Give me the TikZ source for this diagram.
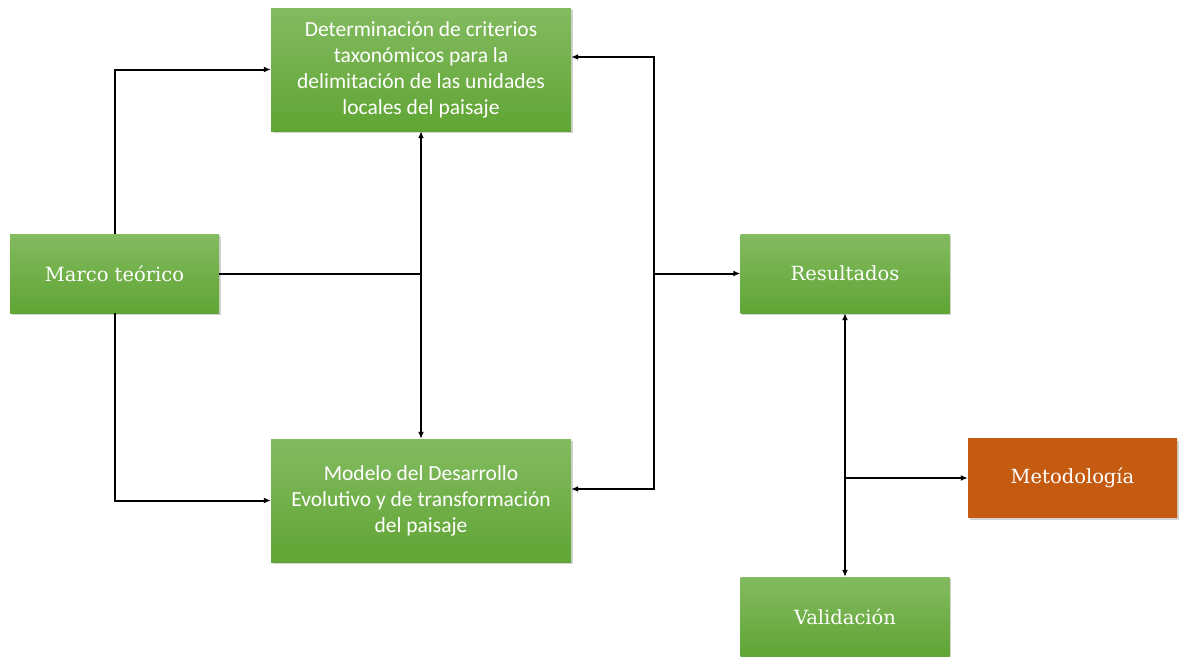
\documentclass[tikz,border=0pt]{standalone}
\usepackage{fontspec}
\setmainfont{DejaVu Serif}
\newfontfamily\calib{Carlito}
\usetikzlibrary{shadows,arrows.meta,calc}
\definecolor{gtop}{RGB}{131,187,96}
\definecolor{gbot}{RGB}{96,165,52}
\definecolor{orng}{RGB}{197,90,17}
\tikzset{
  box/.style={rectangle, inner sep=0pt, text=white, top color=gtop, bottom color=gbot, middle color=gbot!50!gtop,
    drop shadow={shadow xshift=1.5pt, shadow yshift=-2pt, opacity=0.35}},
  bigbox/.style={box, minimum width=300pt, minimum height=123pt, align=center,
    font=\calib\fontsize{21.5}{26}\selectfont},
  smallbox/.style={box, minimum width=209pt, minimum height=79pt, font=\fontsize{19.5}{22}\selectfont},
  orbox/.style={smallbox, top color=orng, bottom color=orng, middle color=orng},
  conn/.style={line width=2pt, -{Latex[length=7pt,width=6pt]}},
  conn2/.style={line width=2pt, {Latex[length=7pt,width=6pt]}-{Latex[length=7pt,width=6pt]}},
  plain/.style={line width=2pt}
}
\begin{document}
\begin{tikzpicture}[x=1pt,y=-1pt]
\useasboundingbox (0,0) rectangle (1180,656);
\node[bigbox] (A) at (421,69.5) {Determinación de criterios\\taxonómicos para la\\delimitación de las unidades\\locales del paisaje};
\node[bigbox] (B) at (421,500.5) {Modelo del Desarrollo\\Evolutivo y de transformación\\del paisaje};
\node[smallbox] (M) at (114.5,273.5) {Marco teórico};
\node[smallbox] (R) at (845,273.5) {Resultados};
\node[orbox] (Me) at (1072.5,478) {Metodología};
\node[smallbox] (V) at (845,616.5) {Validación};
\coordinate (kA) at (654,57);
\coordinate (kB) at (654,489);
\coordinate (j1) at (A.south |- M.east);
\draw[conn] (M.north) |- (A.west);
\draw[conn] (M.south) |- (B.west);
\draw[conn2] (A.south) -- (B.north);
\draw[plain] (M.east) -- (j1);
\draw[conn2] (A.east |- kA) -- (kA) -- (kB) -- (B.east |- kB);
\draw[conn] (kA |- R.west) -- (R.west);
\draw[conn2] (R.south) -- (V.north);
\draw[conn] (R.south |- Me.west) -- (Me.west);
\end{tikzpicture}
\end{document}
